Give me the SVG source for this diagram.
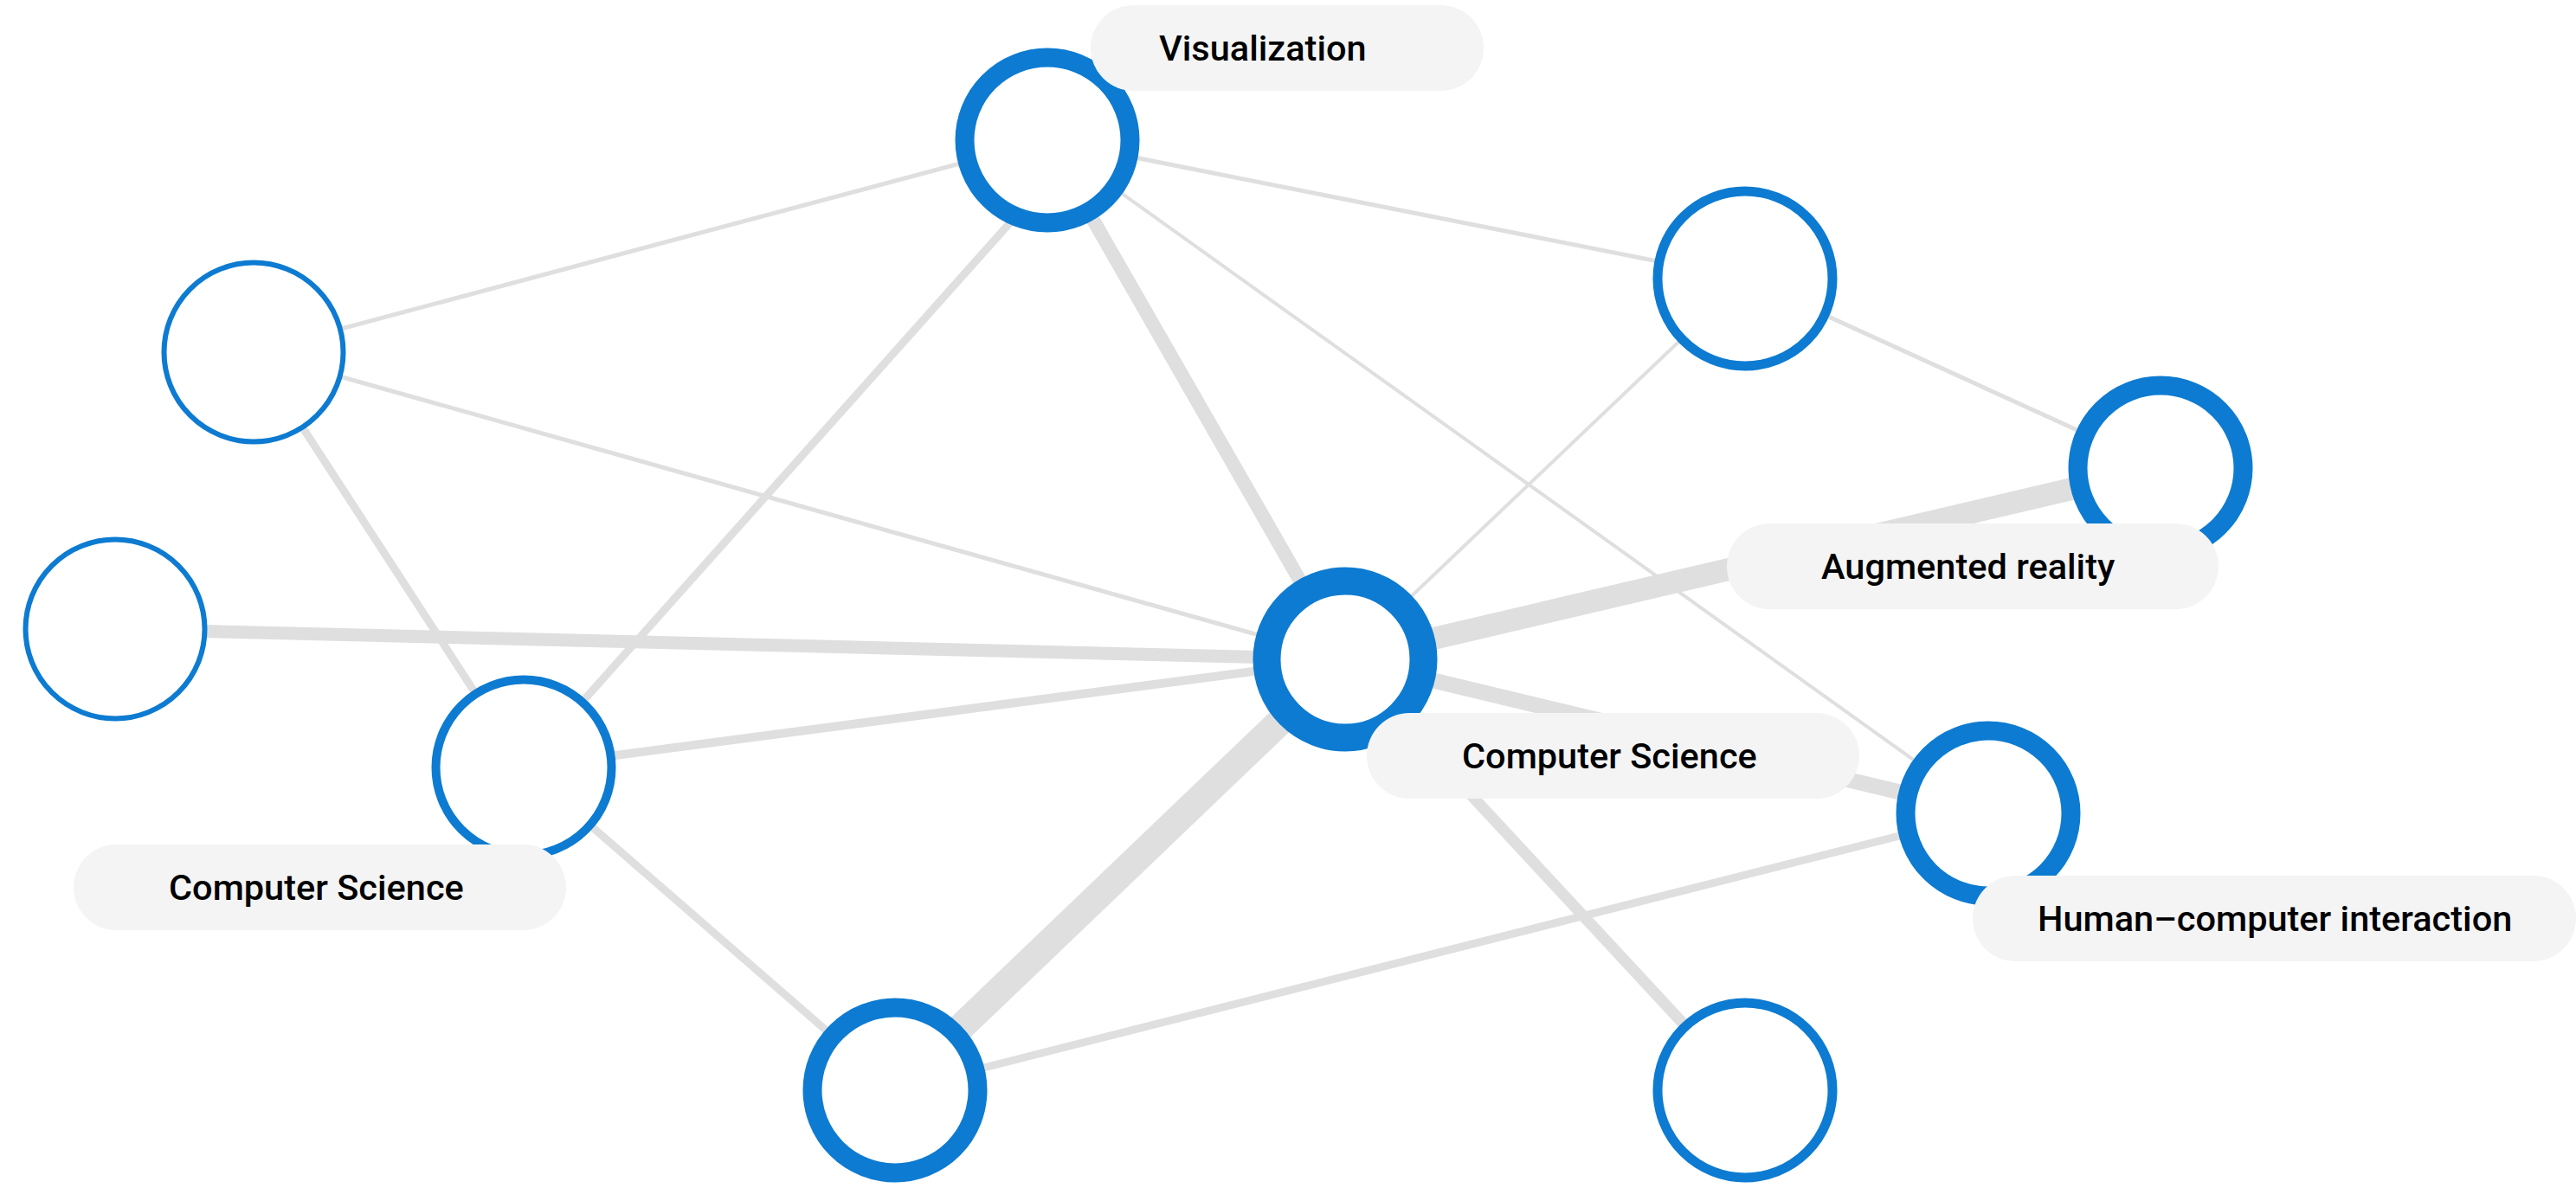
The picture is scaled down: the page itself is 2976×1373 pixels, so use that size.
<svg xmlns="http://www.w3.org/2000/svg" width="2976" height="1373" viewBox="0 0 2976 1373">
<style>
.edge{stroke:#dfdfdf;fill:none;stroke-linecap:butt}
.node{fill:#ffffff;stroke:#0d7bd1}
.pill{fill:#f4f4f4}
.lbl{font-family:Roboto,"Noto Sans","Liberation Sans",sans-serif;font-weight:500;font-size:41.5px;fill:#000000}
</style>
<rect x="0" y="0" width="2976" height="1373" fill="#ffffff"/>
<g id="connectors">
<line class="edge" x1="1210" y1="162" x2="293" y2="407" stroke-width="5"/>
<line class="edge" x1="1210" y1="162" x2="2016" y2="322" stroke-width="5"/>
<line class="edge" x1="1252" y1="162" x2="605" y2="887" stroke-width="9"/>
<line class="edge" x1="1210" y1="162" x2="1554" y2="762" stroke-width="16"/>
<line class="edge" x1="1210" y1="162" x2="2297" y2="940" stroke-width="4"/>
<line class="edge" x1="293" y1="407" x2="1554" y2="762" stroke-width="5"/>
<line class="edge" x1="293" y1="407" x2="605" y2="887" stroke-width="9"/>
<line class="edge" x1="133" y1="727" x2="1554" y2="762" stroke-width="15"/>
<line class="edge" x1="605" y1="887" x2="1554" y2="762" stroke-width="10"/>
<line class="edge" x1="605" y1="887" x2="1034" y2="1260" stroke-width="9"/>
<line class="edge" x1="1554" y1="762" x2="2016" y2="322" stroke-width="4"/>
<line class="edge" x1="1554" y1="762" x2="2496" y2="541" stroke-width="26"/>
<line class="edge" x1="2016" y1="322" x2="2496" y2="541" stroke-width="5"/>
<line class="edge" x1="1554" y1="762" x2="2297" y2="940" stroke-width="18"/>
<line class="edge" x1="1554" y1="762" x2="1034" y2="1260" stroke-width="32"/>
<line class="edge" x1="1554" y1="762" x2="2016" y2="1260" stroke-width="13"/>
<line class="edge" x1="1034" y1="1260" x2="2297" y2="940" stroke-width="9"/>
</g>
<g id="node-visualization"><circle class="node" cx="1210" cy="162" r="95.5" stroke-width="22"/></g>
<g id="node-top-right"><circle class="node" cx="2016" cy="322" r="101" stroke-width="11"/></g>
<g id="node-augmented"><circle class="node" cx="2496" cy="541" r="95.5" stroke-width="22"/></g>
<g id="node-top-left"><circle class="node" cx="293" cy="407" r="103.5" stroke-width="6"/></g>
<g id="node-left"><circle class="node" cx="133" cy="727" r="103.5" stroke-width="6"/></g>
<g id="node-cs-left"><circle class="node" cx="605" cy="887" r="101.5" stroke-width="10"/></g>
<g id="node-center"><circle class="node" cx="1554" cy="762" r="90.5" stroke-width="32"/></g>
<g id="node-hci"><circle class="node" cx="2297" cy="940" r="95.5" stroke-width="22"/></g>
<g id="node-bottom-center"><circle class="node" cx="1034" cy="1260" r="95.5" stroke-width="22"/></g>
<g id="node-bottom-right"><circle class="node" cx="2016" cy="1260" r="101" stroke-width="11"/></g>
<g id="label-visualization"><rect class="pill" x="1260" y="6" width="454" height="99" rx="49.5"/><text class="lbl" x="1339" y="70">Visualization</text></g>
<g id="label-augmented"><rect class="pill" x="1995" y="605" width="568" height="99" rx="49.5"/><text class="lbl" x="2104" y="669">Augmented reality</text></g>
<g id="label-cs-center"><rect class="pill" x="1579" y="824" width="569" height="99" rx="49.5"/><text class="lbl" x="1689" y="888">Computer Science</text></g>
<g id="label-cs-left"><rect class="pill" x="85" y="976" width="569" height="99" rx="49.5"/><text class="lbl" x="195" y="1040">Computer Science</text></g>
<g id="label-hci"><rect class="pill" x="2279" y="1012" width="697" height="99" rx="49.5"/><text class="lbl" x="2354" y="1076">Human–computer interaction</text></g>
</svg>
